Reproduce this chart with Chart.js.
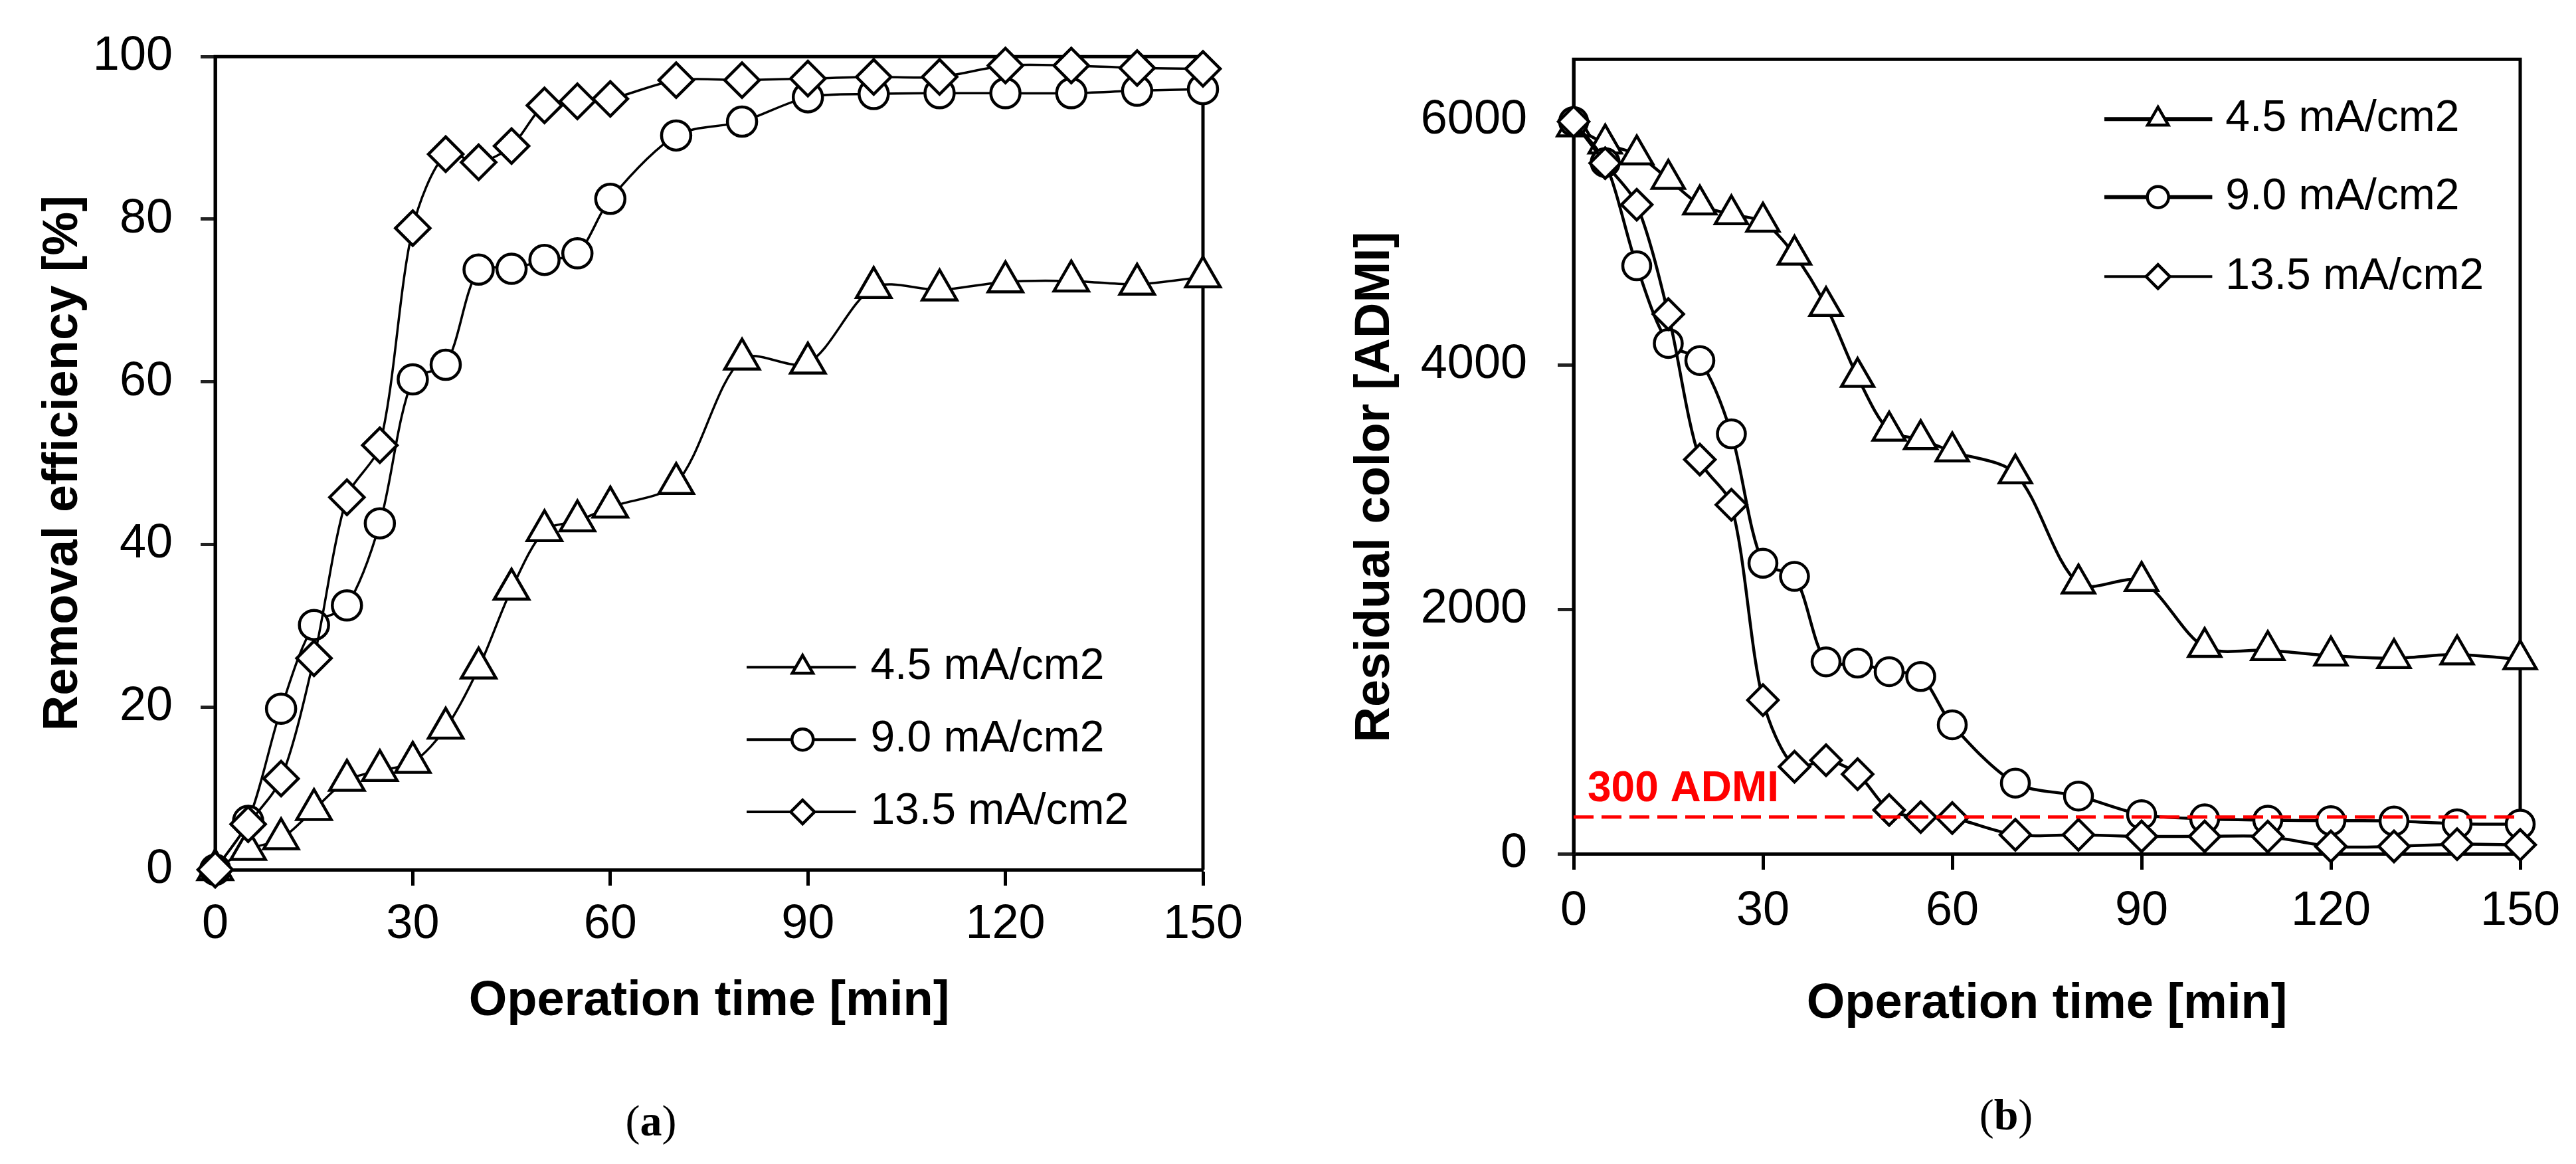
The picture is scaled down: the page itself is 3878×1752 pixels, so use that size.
<!doctype html>
<html lang="en">
<head>
<meta charset="utf-8">
<title>Removal efficiency and residual color</title>
<script src="https://cdn.jsdelivr.net/npm/chart.js@4.4.1/dist/chart.umd.min.js"></script>
<style>
  html, body { margin: 0; padding: 0; background: #fff; }
  #page { position: relative; width: 3878px; height: 1752px; background: #fff; overflow: hidden; }
  canvas { position: absolute; top: 0; }
  #chartA { left: 0; }
  #chartB { left: 1940px; }
  .cap { position: absolute; font-family: 'Liberation Serif', 'Times New Roman', serif; font-size: 66px; color: #000; transform: translate(-50%, -50%); }
</style>
</head>
<body>
<div id="page">
  <canvas id="chartA" width="1900" height="1752"></canvas>
  <canvas id="chartB" width="1938" height="1752"></canvas>
  <div class="cap" style="left:980px;top:1687px">(<b>a</b>)</div>
  <div class="cap" style="left:3020px;top:1678px">(<b>b</b>)</div>
</div>
<script>
// operation time [min]
const times = [0, 5, 10, 15, 20, 25, 30, 35, 40, 45, 50, 55, 60, 70, 80, 90, 100, 110, 120, 130, 140, 150];
const seriesNames = ['4.5 mA/cm2', '9.0 mA/cm2', '13.5 mA/cm2'];

// (a) removal efficiency [%]
const removal45  = [0, 2.5, 3.8, 7.4, 11, 12.2, 13.2, 17.4, 24.8, 34.5, 41.7, 42.9, 44.6, 47.5, 62.8, 62.3, 71.6, 71.3, 72.3, 72.4, 72, 72.9];
const removal90  = [0, 6, 19.8, 30.1, 32.5, 42.6, 60.3, 62.1, 73.8, 73.9, 75, 75.8, 82.5, 90.3, 92, 95, 95.4, 95.5, 95.5, 95.5, 95.8, 96];
const removal135 = [0, 5.6, 11.2, 26, 45.8, 52.2, 78.9, 88, 87, 89, 94, 94.5, 94.8, 97.1, 97.1, 97.3, 97.5, 97.5, 98.9, 98.9, 98.6, 98.5];

// (b) residual color [ADMI]
const color45  = [5950, 5810, 5720, 5520, 5310, 5230, 5170, 4900, 4480, 3900, 3460, 3390, 3290, 3110, 2210, 2230, 1690, 1665, 1620, 1600, 1630, 1590];
const color90  = [5990, 5655, 4810, 4175, 4035, 3435, 2377, 2269, 1570, 1560, 1490, 1450, 1055, 578, 472, 320, 285, 275, 270, 268, 245, 242];
const color135 = [5990, 5650, 5310, 4415, 3225, 2855, 1257, 712, 765, 651, 358, 300, 292, 155, 155, 142, 142, 140, 60, 60, 78, 73];
const limitADMI = 300;
const limitLabel = '300 ADMI';

// tick labels
const timeTicks = [0, 30, 60, 90, 120, 150];
const effTicks = [0, 20, 40, 60, 80, 100];
const colorTicks = [0, 2000, 4000, 6000];

const markers = ['triangle', 'circle', 'rectRot'];

Chart.defaults.font.family = "'Liberation Sans', Arial, sans-serif";
Chart.defaults.color = '#000';

const toPoints = vals => times.map((t, i) => ({ x: t, y: vals[i] }));

function markerPath(ctx, style, x, y, r) {
  ctx.beginPath();
  if (style === 'circle') {
    ctx.arc(x, y, r, 0, Math.PI * 2);
  } else if (style === 'triangle') {
    ctx.moveTo(x, y - r);
    ctx.lineTo(x + r * 0.866, y + r * 0.5);
    ctx.lineTo(x - r * 0.866, y + r * 0.5);
    ctx.closePath();
  } else {
    ctx.moveTo(x - r, y);
    ctx.lineTo(x, y - r);
    ctx.lineTo(x + r, y);
    ctx.lineTo(x, y + r);
    ctx.closePath();
  }
}

// frame around the plot area
const frame = {
  id: 'frame',
  beforeDatasetsDraw(chart) {
    const { ctx, chartArea: a } = chart;
    ctx.save();
    ctx.strokeStyle = '#000';
    ctx.lineWidth = 5;
    ctx.beginPath();
    ctx.moveTo(a.left, a.bottom);
    ctx.lineTo(a.left, a.top);
    ctx.lineTo(a.right, a.top);
    ctx.lineTo(a.right, a.bottom);
    ctx.stroke();
    ctx.restore();
  }
};

// legend drawn inside the plot, line + marker + text
const insideLegend = {
  id: 'insideLegend',
  afterDatasetsDraw(chart, args, opts) {
    const { ctx, scales: { x, y } } = chart;
    ctx.save();
    opts.rows.forEach((row, i) => {
      const py = y.getPixelForValue(row);
      ctx.strokeStyle = '#000';
      ctx.lineWidth = opts.lineWidths[i];
      ctx.beginPath();
      ctx.moveTo(x.getPixelForValue(opts.from), py);
      ctx.lineTo(x.getPixelForValue(opts.to), py);
      ctx.stroke();
      ctx.fillStyle = '#fff';
      ctx.lineWidth = 4.5;
      markerPath(ctx, markers[i], x.getPixelForValue(opts.marker), py, opts.radius[i]);
      ctx.fill();
      ctx.stroke();
      ctx.fillStyle = '#000';
      ctx.font = "66px 'Liberation Sans', Arial, sans-serif";
      ctx.textAlign = 'left';
      ctx.textBaseline = 'middle';
      ctx.fillText(seriesNames[i], x.getPixelForValue(opts.text), py);
    });
    ctx.restore();
  }
};

// extra text for panel b: y title centred on the tick range, limit label
const panelBText = {
  id: 'panelBText',
  afterDraw(chart) {
    const { ctx, scales: { x, y } } = chart;
    ctx.save();
    const cy = (y.getPixelForValue(colorTicks[0]) + y.getPixelForValue(colorTicks[colorTicks.length - 1])) / 2;
    ctx.translate(131, cy);
    ctx.rotate(-Math.PI / 2);
    ctx.fillStyle = '#000';
    ctx.font = "bold 74px 'Liberation Sans', Arial, sans-serif";
    ctx.textAlign = 'center';
    ctx.textBaseline = 'middle';
    ctx.fillText('Residual color [ADMI]', 0, 0);
    ctx.restore();

    ctx.save();
    ctx.fillStyle = '#ff0000';
    ctx.font = "bold 64px 'Liberation Sans', Arial, sans-serif";
    ctx.textAlign = 'left';
    ctx.textBaseline = 'alphabetic';
    ctx.fillText(limitLabel, x.getPixelForValue(0) + 21, y.getPixelForValue(limitADMI) - 24);
    ctx.restore();
  }
};

function lineSet(label, vals, i, radius, width) {
  return {
    label: label,
    data: toPoints(vals),
    borderColor: '#000',
    borderWidth: width,
    backgroundColor: '#fff',
    pointStyle: markers[i],
    pointRadius: radius[i],
    pointBorderWidth: 4.5,
    pointBackgroundColor: '#fff',
    pointBorderColor: '#000',
    tension: 0.3,
    clip: false,
    order: 3 - i
  };
}

const plainNumber = v => String(v);

function axisX(height, titlePad, tickPad) {
  return {
    type: 'linear', min: 0, max: 150,
    afterBuildTicks: s => { s.ticks = timeTicks.map(v => ({ value: v })); },
    afterFit: s => { s.height = height; },
    grid: { drawOnChartArea: false, drawTicks: true, tickLength: 24, tickWidth: 5, tickColor: '#000' },
    border: { display: true, color: '#000', width: 5 },
    ticks: { color: '#000', font: { size: 72 }, padding: tickPad, maxRotation: 0, autoSkip: false, callback: plainNumber },
    title: { display: true, text: 'Operation time [min]', color: '#000', font: { size: 74, weight: 'bold' }, padding: { top: 0, bottom: titlePad } }
  };
}

const radiusA = [30, 22, 26];
const radiusB = [28, 21, 23];

new Chart(document.getElementById('chartA'), {
  type: 'line',
  data: {
    datasets: [
      lineSet(seriesNames[0], removal45, 0, radiusA, 3.5),
      lineSet(seriesNames[1], removal90, 1, radiusA, 3.5),
      lineSet(seriesNames[2], removal135, 2, radiusA, 3.5)
    ]
  },
  options: {
    responsive: false,
    animation: false,
    events: [],
    layout: { padding: { left: 0, top: 74, right: 89, bottom: 0 } },
    scales: {
      x: axisX(443, 200, 16),
      y: {
        type: 'linear', min: 0, max: 100,
        afterBuildTicks: s => { s.ticks = effTicks.map(v => ({ value: v })); },
        afterFit: s => { s.width = 324; },
        grid: { drawOnChartArea: false, drawTicks: true, tickLength: 22, tickWidth: 5, tickColor: '#222' },
        border: { display: true, color: '#222', width: 5 },
        ticks: { color: '#000', font: { size: 72 }, padding: 42, callback: plainNumber },
        title: { display: true, text: 'Removal efficiency [%]', color: '#000', font: { size: 74, weight: 'bold' }, padding: { top: 51, bottom: 0 } }
      }
    },
    plugins: {
      legend: { display: false },
      tooltip: { enabled: false },
      insideLegend: { from: 80.7, to: 97.3, marker: 89.2, text: 99.5, rows: [24.9, 16.0, 7.1], radius: [18, 16, 18], lineWidths: [4, 4, 4] }
    }
  },
  plugins: [frame, insideLegend]
});

new Chart(document.getElementById('chartB'), {
  type: 'line',
  data: {
    datasets: [
      lineSet(seriesNames[0], color45, 0, radiusB, 4.5),
      lineSet(seriesNames[1], color90, 1, radiusB, 4.5),
      lineSet(seriesNames[2], color135, 2, radiusB, 4.5),
      {
        label: limitLabel,
        data: [{ x: 0, y: limitADMI }, { x: 150, y: limitADMI }],
        borderColor: '#ff0000',
        borderWidth: 5,
        borderDash: [30, 12],
        pointRadius: 0,
        clip: false,
        order: 0
      }
    ]
  },
  options: {
    responsive: false,
    animation: false,
    events: [],
    layout: { padding: { left: 0, top: 84, right: 84, bottom: 0 } },
    scales: {
      x: axisX(467, 196, 20),
      y: {
        type: 'linear', min: 0, max: 6500,
        afterBuildTicks: s => { s.ticks = colorTicks.map(v => ({ value: v })); },
        afterFit: s => { s.width = 429; },
        grid: { drawOnChartArea: false, drawTicks: true, tickLength: 24, tickWidth: 5, tickColor: '#222' },
        border: { display: true, color: '#222', width: 5 },
        ticks: { color: '#000', font: { size: 72 }, padding: 46, callback: plainNumber },
        title: { display: false }
      }
    },
    plugins: {
      legend: { display: false },
      tooltip: { enabled: false },
      insideLegend: { from: 84.1, to: 101.2, marker: 92.6, text: 103.3, rows: [6011, 5372, 4722], radius: [18, 16, 18], lineWidths: [6, 6, 4] }
    }
  },
  plugins: [frame, insideLegend, panelBText]
});
</script>
</body>
</html>
